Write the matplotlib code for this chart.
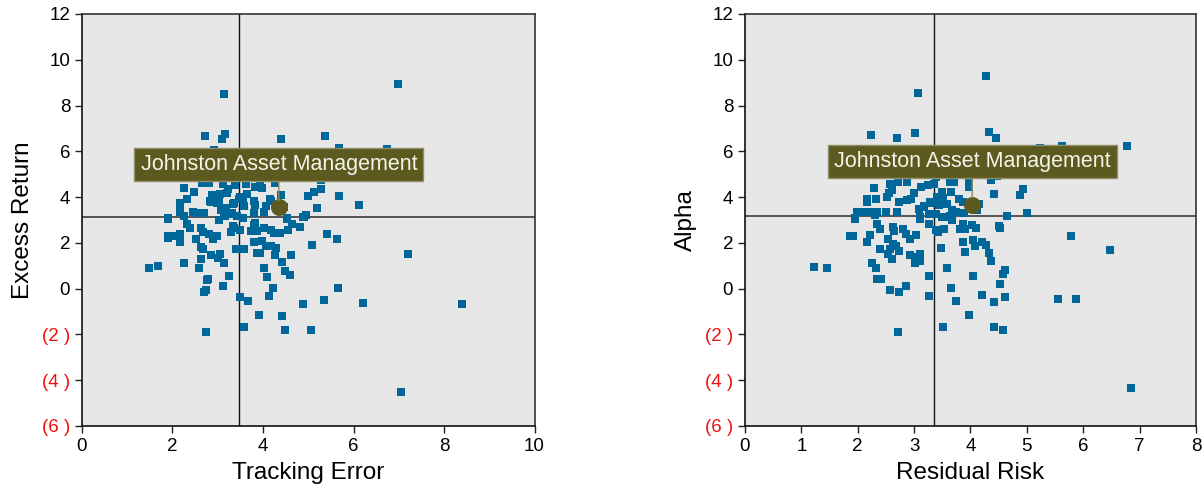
import numpy as np
import matplotlib.pyplot as plt

plt.rcParams['font.family'] = ['Liberation Sans', 'DejaVu Sans']

# (tracking error, excess return) for every manager in the universe
te_er = [
    (3.13, 8.49), (6.99, 8.93), (2.71, 6.66), (3.16, 6.75), (3.09, 6.53), (4.40, 6.54), (5.37, 6.66), (5.68, 6.16),
    (6.74, 6.10), (2.91, 6.07), (2.25, 4.39), (2.47, 4.21), (2.65, 4.62), (2.80, 4.62), (3.11, 4.56), (3.21, 4.18),
    (3.39, 4.52), (3.62, 4.59), (3.93, 4.68), (3.98, 4.39), (4.27, 4.62), (4.60, 4.83), (5.28, 4.75), (4.40, 4.10),
    (4.99, 4.04), (5.13, 4.23), (5.28, 4.35), (5.68, 4.04), (6.13, 3.65), (5.19, 3.52), (4.91, 3.14), (4.54, 3.10),
    (2.17, 3.73), (2.31, 3.92), (2.82, 3.83), (2.88, 4.10), (2.99, 3.76), (3.15, 3.50), (3.34, 3.72), (3.55, 3.95),
    (3.64, 4.14), (3.80, 3.85), (3.83, 3.67), (4.18, 3.83), (4.06, 3.59), (3.58, 3.59), (2.17, 3.37), (2.45, 3.34),
    (2.69, 3.30), (4.02, 3.35), (3.80, 3.30), (1.91, 3.08), (1.47, 0.89), (1.67, 0.98), (2.25, 1.11), (2.58, 0.89),
    (2.62, 1.29), (1.91, 2.28), (2.00, 2.32), (2.17, 2.38), (2.17, 2.03), (2.51, 2.16), (2.39, 2.64), (2.31, 2.83),
    (1.91, 3.03), (2.25, 3.18), (2.62, 2.64), (2.67, 2.49), (2.80, 2.39), (2.89, 2.17), (2.98, 2.32), (3.02, 3.00),
    (3.15, 3.18), (2.62, 1.83), (2.67, 1.72), (2.84, 1.48), (3.04, 1.52), (3.00, 1.33), (3.13, 1.11), (3.24, 0.55),
    (2.79, 0.41), (2.76, 0.37), (3.11, 0.11), (2.73, -0.05), (2.69, -0.15), (2.73, -1.90), (3.33, 2.74), (3.29, 2.49),
    (3.49, 2.55), (3.41, 1.72), (3.58, 1.72), (3.50, -0.37), (3.67, -0.55), (3.58, -1.68), (3.91, -1.16), (3.80, 2.76),
    (3.74, 2.51), (3.86, 2.52), (4.02, 2.64), (4.18, 2.55), (4.24, 2.42), (4.38, 2.44), (3.80, 2.03), (3.98, 2.07),
    (4.06, 1.86), (4.18, 1.87), (4.29, 1.77), (3.87, 1.55), (3.93, 1.55), (4.26, 1.48), (4.62, 1.48), (4.42, 1.16),
    (4.02, 0.89), (4.49, 0.76), (4.60, 0.59), (4.09, 0.50), (4.22, 0.02), (4.13, -0.33), (4.42, -1.20), (4.49, -1.81),
    (5.06, -1.81), (4.88, -0.68), (5.35, -0.50), (5.66, 0.02), (6.22, -0.63), (8.39, -0.68), (7.21, 1.51), (7.06, -4.52),
    (5.08, 1.90), (5.42, 2.38), (5.64, 2.16), (4.82, 2.69), (4.64, 2.82), (4.55, 2.55), (4.53, 3.03), (4.88, 3.12),
    (4.95, 3.21), (3.55, 3.08), (3.43, 3.18), (3.32, 3.30), (3.19, 3.52), (3.35, 3.73), (3.02, 3.80), (2.84, 3.80),
    (2.17, 3.59), (2.56, 3.32), (1.89, 2.23), (3.23, 4.37), (3.82, 4.46), (2.90, 4.07), (3.05, 4.15), (3.49, 4.00),
    (3.94, 4.74), (4.16, 3.93), (3.08, 3.45), (3.13, 3.32), (3.26, 3.28), (3.48, 3.91), (3.35, 2.67), (3.82, 2.87),
    (4.46, 3.56),
]

# (residual risk, alpha)
rr_alpha = [
    (4.27, 9.30), (3.06, 8.56), (2.24, 6.72), (2.69, 6.59), (3.01, 6.81), (4.32, 6.86), (4.46, 6.59), (6.77, 6.24),
    (5.23, 6.14), (5.62, 6.24), (2.28, 4.41), (2.33, 3.93), (2.17, 3.80), (2.58, 4.59), (2.72, 4.64), (2.87, 4.67),
    (2.55, 4.19), (2.52, 4.02), (2.99, 4.19), (3.13, 4.42), (3.24, 4.51), (3.36, 4.59), (3.64, 4.66), (3.70, 4.67),
    (3.97, 4.73), (4.36, 4.73), (3.97, 4.44), (4.41, 4.15), (4.88, 4.10), (4.94, 4.37), (5.07, 4.95), (3.50, 4.24),
    (3.65, 4.24), (3.40, 4.00), (3.52, 3.94), (3.58, 3.71), (3.79, 3.93), (3.86, 3.78), (4.15, 3.68), (4.11, 3.42),
    (2.73, 3.80), (2.87, 3.89), (2.95, 3.93), (3.29, 3.78), (3.17, 3.56), (3.08, 3.49), (3.45, 3.64), (3.68, 3.42),
    (3.74, 3.35), (1.98, 3.36), (2.10, 3.36), (2.22, 3.36), (2.35, 3.33), (2.50, 3.33), (2.69, 3.36), (4.65, 3.16),
    (5.01, 3.32), (1.95, 3.10), (3.11, 3.13), (3.38, 3.24), (3.49, 3.13), (3.64, 3.13), (1.96, 3.06), (1.92, 2.28),
    (1.86, 2.28), (1.23, 0.96), (1.46, 0.92), (2.21, 2.36), (2.17, 2.05), (2.35, 2.84), (2.39, 2.62), (2.30, 3.20),
    (2.62, 2.69), (2.65, 2.53), (2.81, 2.59), (2.85, 2.40), (2.93, 2.17), (3.04, 2.36), (2.53, 2.18), (2.40, 1.75),
    (2.53, 1.50), (2.57, 1.75), (2.63, 1.97), (2.67, 1.85), (2.74, 1.66), (2.60, 1.31), (2.26, 1.14), (2.33, 0.92),
    (2.35, 0.44), (2.42, 0.44), (2.58, -0.04), (2.74, -0.13), (2.85, 0.13), (2.72, -1.88), (2.92, 1.48), (3.01, 1.38),
    (3.11, 1.53), (3.02, 1.14), (3.11, 1.22), (3.26, 0.57), (3.27, -0.31), (3.10, 3.06), (3.18, 3.59), (3.26, 2.81),
    (3.38, 2.55), (3.42, 2.47), (3.53, 2.62), (3.47, 1.79), (3.59, 0.92), (3.66, 0.04), (3.75, -0.52), (3.52, -1.66),
    (3.63, 3.16), (3.68, 2.98), (3.86, 2.84), (3.82, 2.59), (3.91, 2.59), (4.02, 2.76), (4.09, 2.66), (3.86, 2.05),
    (4.04, 2.14), (4.08, 1.88), (4.20, 2.05), (4.27, 1.92), (3.90, 1.62), (4.32, 1.55), (4.37, 1.22), (4.04, 0.57),
    (4.21, -0.26), (4.41, -0.57), (3.98, -1.14), (4.41, -1.66), (4.57, -1.79), (4.61, 0.83), (4.57, 0.66), (4.53, 0.22),
    (4.61, -0.35), (4.50, 2.75), (4.53, 2.66), (5.78, 2.31), (6.47, 1.70), (5.56, -0.44), (5.87, -0.44), (6.84, -4.32),
    (3.89, 3.30), (3.30, 3.74), (2.61, 4.29), (3.39, 4.87), (2.16, 3.93), (4.47, 4.92), (3.26, 3.28),
]

fund_name = 'Johnston Asset Management'
fund_te_er = (4.35, 3.55)
fund_rr_alpha = (4.03, 3.66)
median_te_er = (3.46, 3.15)
median_rr_alpha = (3.36, 3.19)
label_y = [5.43, 5.55]

y_ticks = [12, 10, 8, 6, 4, 2, 0, -2, -4, -6]
y_tick_labels = ['12', '10', '8', '6', '4', '2', '0', '(2 )', '(4 )', '(6 )']

panels = [
    dict(pts=te_er, fund=fund_te_er, med=median_te_er, xlim=(0, 10), xticks=range(0, 11, 2),
         xlabel='Tracking Error', ylabel='Excess Return', pos=[0.0682, 0.1324, 0.3765, 0.8391], ly=label_y[0]),
    dict(pts=rr_alpha, fund=fund_rr_alpha, med=median_rr_alpha, xlim=(0, 8), xticks=range(0, 9),
         xlabel='Residual Risk', ylabel='Alpha', pos=[0.6198, 0.1324, 0.3752, 0.8391], ly=label_y[1]),
]

fig = plt.figure(figsize=(12.02, 4.91), dpi=100)

for p in panels:
    ax = fig.add_axes(p['pos'])
    ax.set_facecolor('#e7e7e7')
    pts = np.array(p['pts'])

    ax.axvline(p['med'][0], color='#111111', lw=1.0, zorder=1)
    ax.axhline(p['med'][1], color='#555555', lw=1.4, zorder=1)

    ax.scatter(pts[:, 0], pts[:, 1], marker='s', s=28, color='#00679a', linewidths=0, zorder=2)
    ax.scatter([p['fund'][0]], [p['fund'][1]], s=150, color='#5c5a1f', linewidths=0, zorder=4)

    ax.annotate(fund_name, xy=p['fund'], xytext=(p['fund'][0], p['ly']),
                ha='center', va='center', fontsize=15.5, color='#f4f4ea', zorder=5,
                bbox=dict(boxstyle='square,pad=0.28', fc='#5c5a1f', ec='#8f8e6a', lw=1),
                arrowprops=dict(arrowstyle='-', color='#8f8a5a', lw=1, shrinkA=0, shrinkB=5))

    ax.set_xlim(*p['xlim'])
    ax.set_ylim(-6, 12)
    ax.set_xticks(list(p['xticks']))
    ax.set_yticks(y_ticks)
    ax.set_yticklabels(y_tick_labels)
    for lab, v in zip(ax.get_yticklabels(), y_ticks):
        if v < 0:
            lab.set_color('#ee1111')

    ax.tick_params(direction='out', length=5, width=1, labelsize=13.5, color='#222222')
    ax.set_xlabel(p['xlabel'], fontsize=17.5, labelpad=5)
    ax.set_ylabel(p['ylabel'], fontsize=17.5, labelpad=6)

    for side in ['left', 'bottom']:
        ax.spines[side].set_color('#111111')
        ax.spines[side].set_linewidth(1.2)
    for side in ['top', 'right']:
        ax.spines[side].set_color('#333333')
        ax.spines[side].set_linewidth(1.2)

fig.savefig('out.png', dpi=100)
